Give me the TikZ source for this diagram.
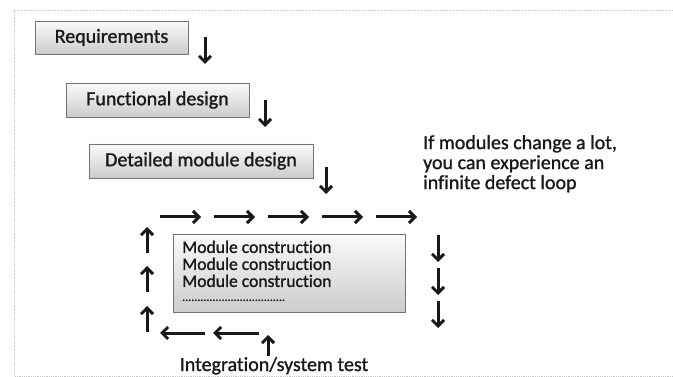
\documentclass[tikz,border=0pt]{standalone}
\usepackage{fontspec}
\setmainfont{Carlito}[Ligatures=NoCommon, FakeBold=1.2]
\usetikzlibrary{arrows.meta, positioning, calc, shadows}
\tikzset{
    stageBox/.style={rectangle, draw=black!55, thick, top color=black!2, bottom color=black!20, drop shadow={shadow xshift=1.2pt, shadow yshift=-1.2pt, opacity=0.35}, font=\fontsize{20}{22}\selectfont, text=black!90, inner sep=0pt},
    noteText/.style={align=left, inner sep=0pt, text=black!90, font=\fontsize{20}{20}\selectfont},
    modText/.style={align=left, inner sep=0pt, text=black!90, font=\fontsize{17.6}{17}\selectfont},
    flowArrow/.style={-{Straight Barb[length=6pt, width=12pt]}, line width=3pt, black!90},
}
\newcommand{\drawArrow}[3]{
    \coordinate (#1s) at (#2);
    \coordinate (#1e) at (#3);
    \draw[flowArrow] (#1s) -- (#1e);
}

\begin{document}
\begin{tikzpicture}[x=1pt, y=-1pt]
    \useasboundingbox (0,0) rectangle (673,377);
    % faint page frame
    \draw[black!22, line width=0.8pt, densely dotted] (673,10) -- (14,10) -- (14,376) -- (673,376);

    % waterfall stages
    \node[stageBox, minimum width=153pt, minimum height=33pt] (req) at (111.5,37.5) {Requirements};
    \node[stageBox, minimum width=183pt, minimum height=34pt] (func) at (157.5,100) {Functional design};
    \node[stageBox, minimum width=224pt, minimum height=34pt] (detail) at (201,161) {Detailed module design};
    \node[stageBox, minimum width=232pt, minimum height=78pt] (construct) at (289,273) {};
    \node[modText, anchor=north west] (constructText) at (182,240.5)
        {Module construction\\Module construction\\Module construction\\[-3pt]{\fontsize{12}{12}\selectfont ..................................}};

    \node[noteText, anchor=north west] (note) at (423,135)
        {If modules change a lot,\\you can experience an\\infinite defect loop};
    \node[noteText, anchor=base] (integ) at (274,371) {Integration/system test};

    % stage to stage
    \drawArrow{d1}{205,37}{205,64}
    \drawArrow{d2}{265,100}{265,127}
    \drawArrow{d3}{326,167}{326,194}

    % loop round the construction box
    \foreach \xs [count=\i] in {160,214,268,322,376}{
        \drawArrow{top\i}{\xs,217}{\xs+41,217}
    }
    \foreach \ys [count=\i] in {235,268,301}{
        \drawArrow{right\i}{438,\ys}{438,\ys+27}
    }
    \drawArrow{bot1}{259,333}{213,333}
    \drawArrow{bot2}{205,333}{160,333}
    \foreach \ys [count=\i] in {332,292,253}{
        \drawArrow{left\i}{147,\ys}{147,\ys-26}
    }
    \drawArrow{integUp}{268,356}{268,335}
\end{tikzpicture}
\end{document}
